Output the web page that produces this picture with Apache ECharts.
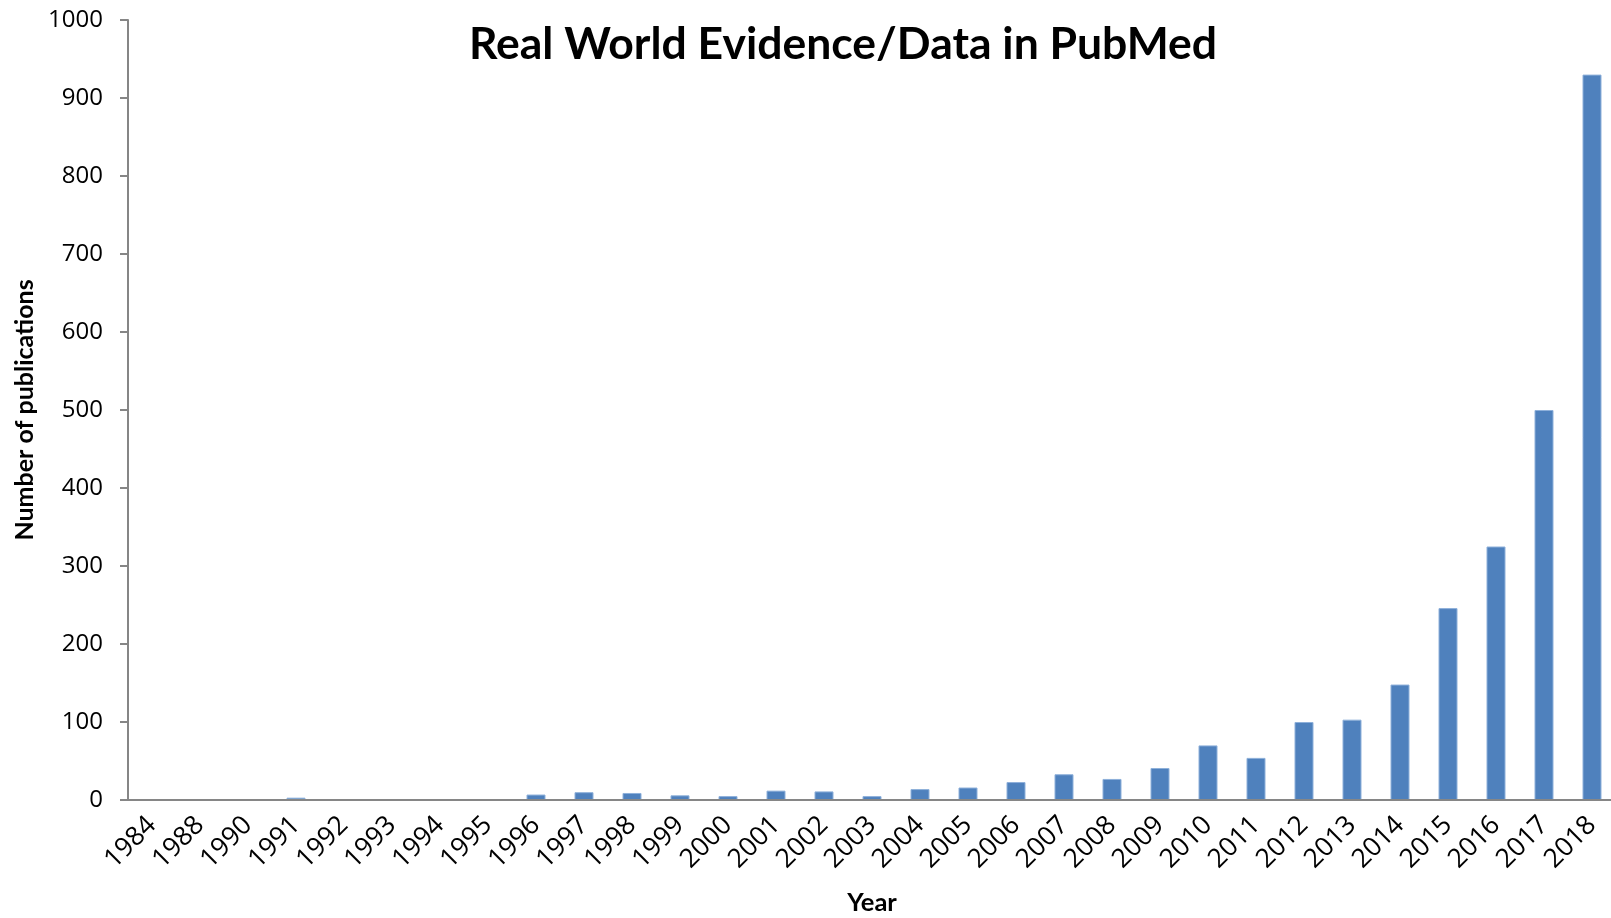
<!DOCTYPE html>
<html lang="en">
<head>
  <meta charset="UTF-8">
  <title>Real World Evidence/Data in PubMed</title>
  <script src="https://cdn.jsdelivr.net/npm/echarts@6/dist/echarts.min.js"></script>
  <style>
    html, body { margin: 0; padding: 0; background: #fff; overflow: hidden; }
    #chart { width: 1611px; height: 918px; }
  </style>
</head>
<body>
  <div id="chart"></div>
<script>
  // data
  var years = ['1984', '1988', '1990', '1991', '1992', '1993', '1994', '1995', '1996', '1997',
    '1998', '1999', '2000', '2001', '2002', '2003', '2004', '2005', '2006', '2007',
    '2008', '2009', '2010', '2011', '2012', '2013', '2014', '2015', '2016', '2017', '2018'];
  var publications = [0, 0, 0, 3, 0, 0, 1, 0, 7, 10,
    9, 6, 5, 12, 11, 5, 14, 16, 23, 33,
    27, 41, 70, 54, 100, 103, 148, 246, 325, 500, 930];
  var yTicks = [0, 100, 200, 300, 400, 500, 600, 700, 800, 900, 1000];

  window.onload = function() {
    var chart = echarts.init(document.getElementById('chart'))
    var axisGray = '#868686'
    var font = 'Lato'
    var tickFont = 'Open Sans'

    var option = {
      animation: false,
      title: {
        text: 'Real World Evidence/Data in PubMed',
        left: 838,
        top: 17,
        textAlign: 'center',
        textStyle: {
          fontFamily: font,
          fontWeight: 'bold',
          fontSize: 44.5,
          color: '#000'
        }
      },
      grid: {
        left: 128,
        top: 20,
        width: 1488,   // last column runs a little past the right edge, like the original
        height: 780,
        outerBoundsMode: 'none'
      },
      xAxis: {
        type: 'category',
        data: years,
        z: 3,
        name: 'Year',
        nameLocation: 'middle',
        nameGap: 90,
        nameTextStyle: {
          fontFamily: font,
          fontWeight: 'bold',
          fontSize: 25.5,
          color: '#000'
        },
        axisLine: {
          lineStyle: { color: axisGray, width: 2 }
        },
        axisTick: {
          length: 8,
          lineStyle: { color: axisGray, width: 2 }
        },
        axisLabel: {
          rotate: 45,
          margin: 21,
          interval: 0,
          fontFamily: tickFont,
          fontSize: 26.5,
          color: '#000'
        }
      },
      yAxis: {
        type: 'value',
        min: yTicks[0],
        max: yTicks[yTicks.length - 1],
        interval: yTicks[1] - yTicks[0],
        name: 'Number of publications',
        nameLocation: 'middle',
        nameGap: 90,
        nameTextStyle: {
          fontFamily: font,
          fontWeight: 'bold',
          fontSize: 25,
          color: '#000'
        },
        axisLine: {
          show: true,
          lineStyle: { color: axisGray, width: 2 }
        },
        axisTick: {
          show: true,
          length: 8,
          lineStyle: { color: axisGray, width: 2 }
        },
        axisLabel: {
          margin: 25,
          formatter: function(v) { return String(v) },
          fontFamily: tickFont,
          fontSize: 24,
          color: '#000'
        },
        splitLine: { show: false }
      },
      series: [{
        type: 'bar',
        data: publications,
        barWidth: 19,
        itemStyle: {
          color: '#4f81bd',
          borderColor: '#8eb0da',
          borderWidth: 1
        }
      }]
    }

    chart.setOption(option)
  }
</script>
</body>
</html>
